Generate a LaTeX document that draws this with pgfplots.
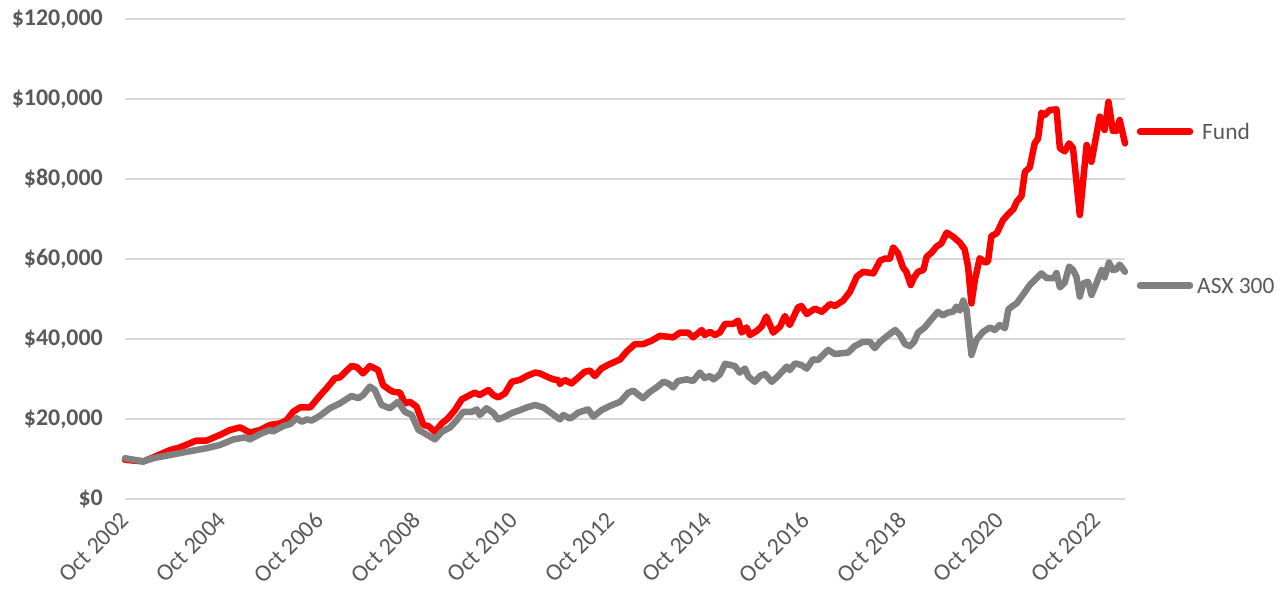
\documentclass[border=0pt]{standalone}
\usepackage{pgfplots}
\pgfplotsset{compat=1.18}
\usepackage{fontspec}
\setmainfont{Carlito}
\definecolor{txt}{HTML}{595959}
\definecolor{gridc}{HTML}{D9D9D9}
\definecolor{fundc}{HTML}{FF0000}
\definecolor{asxc}{HTML}{808080}
\begin{document}
\begin{tikzpicture}
\path[use as bounding box] (0,0) rectangle (1288bp,592bp);
\begin{axis}[
  at={(125bp,93bp)}, anchor=south west,
  scale only axis, width=1000bp, height=480bp,
  xmin=2002.75, xmax=2023.33, ymin=0, ymax=120,
  axis line style={draw=none}, tick style={draw=none},
  major tick length=0pt,
  ymajorgrids, grid style={gridc, line width=1.5bp},
  ytick={0,20,40,60,80,100,120},
  yticklabels={\$0,{\$20,000},{\$40,000},{\$60,000},{\$80,000},{\$100,000},{\$120,000}},
  yticklabel style={font=\fontsize{24}{28}\selectfont\bfseries, text=txt, anchor=east, inner sep=0pt, xshift=-22bp},
  xtick={2002.75,2004.75,2006.75,2008.75,2010.75,2012.75,2014.75,2016.75,2018.75,2020.75,2022.75},
  xticklabels={Oct 2002,Oct 2004,Oct 2006,Oct 2008,Oct 2010,Oct 2012,Oct 2014,Oct 2016,Oct 2018,Oct 2020,Oct 2022},
  xticklabel style={font=\fontsize{24}{28}\selectfont, text=txt, rotate=45, anchor=north east, inner sep=0pt, yshift=-4bp, xshift=-12bp},
  clip=false,
]
\addplot[fundc, line width=6.5bp, line join=round, line cap=round] coordinates {
(2002.75,9.8) (2003.13,9.4) (2003.33,10.4) (2003.68,12.25) (2003.88,12.9) (2004.22,14.6) (2004.43,14.6) (2004.70,16.0) (2004.91,17.25) (2005.12,17.9) (2005.22,17.25) (2005.32,16.6) (2005.53,17.25) (2005.73,18.5) (2005.94,18.9) (2006.08,19.75) (2006.21,21.8) (2006.35,22.9) (2006.56,22.9) (2006.76,25.8) (2006.90,27.7) (2007.07,30.2) (2007.17,30.4) (2007.41,33.25) (2007.52,33.0) (2007.65,31.4) (2007.79,33.25) (2007.96,32.25) (2008.06,28.5) (2008.20,27.25) (2008.27,26.8) (2008.41,26.6) (2008.51,23.9) (2008.61,24.3) (2008.75,23.1) (2008.89,18.5) (2008.99,18.25) (2009.13,16.8) (2009.27,18.9) (2009.40,20.2) (2009.54,22.25) (2009.68,24.9) (2009.85,26.0) (2009.95,26.6) (2010.05,26.0) (2010.23,27.25) (2010.33,26.0) (2010.43,25.4) (2010.57,26.4) (2010.71,29.3) (2010.88,29.8) (2011.02,30.75) (2011.19,31.6) (2011.29,31.4) (2011.43,30.6) (2011.56,29.9) (2011.67,29.75) (2011.70,28.75) (2011.80,29.75) (2011.94,28.9) (2012.08,30.4) (2012.21,31.8) (2012.32,32.1) (2012.42,30.75) (2012.56,32.7) (2012.73,33.75) (2012.83,34.3) (2012.94,34.9) (2013.07,36.8) (2013.24,38.7) (2013.41,38.7) (2013.59,39.6) (2013.76,40.8) (2013.90,40.6) (2014.03,40.4) (2014.17,41.6) (2014.34,41.6) (2014.44,40.4) (2014.62,42.25) (2014.68,41.0) (2014.79,41.8) (2014.89,41.0) (2014.99,41.6) (2015.10,43.8) (2015.27,43.8) (2015.37,44.6) (2015.44,41.6) (2015.54,42.9) (2015.61,41.0) (2015.75,42.0) (2015.85,43.1) (2015.95,45.6) (2016.09,41.6) (2016.23,43.1) (2016.33,45.75) (2016.43,43.5) (2016.60,47.9) (2016.67,48.25) (2016.78,46.25) (2016.95,47.6) (2017.09,46.8) (2017.26,48.75) (2017.36,48.25) (2017.53,49.6) (2017.67,51.8) (2017.81,55.6) (2017.94,56.8) (2018.15,56.4) (2018.29,59.6) (2018.39,60.1) (2018.49,60.1) (2018.56,62.9) (2018.66,61.4) (2018.76,57.9) (2018.83,56.8) (2018.92,53.5) (2018.99,55.4) (2019.07,56.8) (2019.18,57.25) (2019.25,60.6) (2019.35,61.6) (2019.45,63.1) (2019.55,63.9) (2019.66,66.6) (2019.79,65.6) (2019.93,64.1) (2020.03,62.4) (2020.10,58.1) (2020.17,48.9) (2020.24,54.75) (2020.34,60.2) (2020.45,59.1) (2020.51,59.4) (2020.58,65.75) (2020.69,66.4) (2020.82,69.75) (2020.93,71.25) (2021.03,72.4) (2021.10,74.3) (2021.20,75.75) (2021.27,81.8) (2021.37,82.9) (2021.47,88.9) (2021.54,90.1) (2021.61,96.6) (2021.68,96.0) (2021.78,97.25) (2021.92,97.4) (2021.99,87.7) (2022.09,86.9) (2022.18,88.9) (2022.26,87.7) (2022.40,71.0) (2022.54,88.5) (2022.64,84.3) (2022.81,95.6) (2022.91,92.25) (2022.99,99.3) (2023.08,92.0) (2023.15,92.0) (2023.22,94.75) (2023.33,88.9)
};
\addplot[asxc, line width=6.5bp, line join=round, line cap=round] coordinates {
(2002.75,10.2) (2003.13,9.4) (2003.33,10.2) (2003.68,11.0) (2004.02,11.8) (2004.43,12.7) (2004.70,13.5) (2004.98,14.9) (2005.22,15.4) (2005.32,14.9) (2005.53,16.25) (2005.73,17.25) (2005.80,16.9) (2006.01,18.25) (2006.15,18.75) (2006.28,20.2) (2006.39,19.3) (2006.49,19.9) (2006.59,19.6) (2006.76,20.8) (2006.97,22.7) (2007.17,23.9) (2007.41,25.75) (2007.55,25.2) (2007.65,26.0) (2007.79,28.1) (2007.89,27.25) (2008.03,23.5) (2008.20,22.7) (2008.37,24.3) (2008.51,21.8) (2008.65,21.0) (2008.79,17.25) (2008.92,16.4) (2009.13,14.9) (2009.27,16.8) (2009.44,17.9) (2009.58,19.75) (2009.71,21.8) (2009.89,21.8) (2009.99,22.4) (2010.05,21.0) (2010.19,22.7) (2010.33,21.5) (2010.43,19.9) (2010.57,20.6) (2010.71,21.5) (2010.88,22.2) (2011.02,22.9) (2011.19,23.5) (2011.36,22.9) (2011.53,21.4) (2011.70,19.9) (2011.77,21.0) (2011.91,20.1) (2012.08,21.6) (2012.28,22.4) (2012.39,20.6) (2012.56,22.25) (2012.73,23.25) (2012.94,24.3) (2013.11,26.6) (2013.21,27.1) (2013.28,26.4) (2013.41,25.2) (2013.55,26.75) (2013.69,27.9) (2013.83,29.3) (2013.93,28.9) (2014.03,27.9) (2014.13,29.5) (2014.31,29.9) (2014.44,29.5) (2014.58,31.6) (2014.68,30.25) (2014.79,30.75) (2014.86,29.9) (2014.99,31.1) (2015.10,33.8) (2015.30,33.25) (2015.40,31.6) (2015.51,32.6) (2015.58,30.6) (2015.71,29.3) (2015.82,30.75) (2015.92,31.25) (2016.06,29.3) (2016.19,30.75) (2016.37,33.1) (2016.43,32.25) (2016.54,33.9) (2016.67,33.5) (2016.78,32.6) (2016.91,34.9) (2017.01,34.75) (2017.22,37.25) (2017.36,36.25) (2017.63,36.6) (2017.77,38.25) (2017.94,39.3) (2018.08,39.3) (2018.18,37.7) (2018.29,39.3) (2018.42,40.6) (2018.60,42.25) (2018.70,41.0) (2018.80,38.75) (2018.90,38.2) (2018.99,39.3) (2019.07,41.6) (2019.21,42.9) (2019.31,44.4) (2019.48,46.8) (2019.58,45.9) (2019.68,46.6) (2019.79,46.8) (2019.86,48.1) (2019.93,47.1) (2020.00,49.6) (2020.07,47.25) (2020.17,36.0) (2020.27,39.75) (2020.41,41.8) (2020.55,42.9) (2020.65,42.25) (2020.75,43.5) (2020.86,42.7) (2020.93,47.4) (2021.00,48.1) (2021.10,48.9) (2021.24,51.25) (2021.37,53.5) (2021.51,55.2) (2021.61,56.4) (2021.72,55.2) (2021.86,55.2) (2021.92,56.5) (2021.99,52.9) (2022.09,54.1) (2022.18,58.1) (2022.26,57.25) (2022.33,55.6) (2022.40,50.6) (2022.47,53.9) (2022.57,54.3) (2022.64,51.0) (2022.74,53.9) (2022.85,57.25) (2022.91,55.4) (2023.00,59.1) (2023.08,57.25) (2023.15,57.4) (2023.22,58.6) (2023.33,56.8)
};
\end{axis}
% legend keys
\draw[fundc, line width=6.5bp, line cap=round] (1140bp,460.3bp) -- (1190bp,460.3bp);
\node[anchor=west, inner sep=0pt, text=txt, font=\fontsize{23.5}{27}\selectfont] at (1202bp,460.3bp) {Fund};
\draw[asxc, line width=6.5bp, line cap=round] (1140bp,306.3bp) -- (1190bp,306.3bp);
\node[anchor=west, inner sep=0pt, text=txt, font=\fontsize{23.5}{27}\selectfont] at (1197bp,306.3bp) {ASX 300};
\end{tikzpicture}
\end{document}
